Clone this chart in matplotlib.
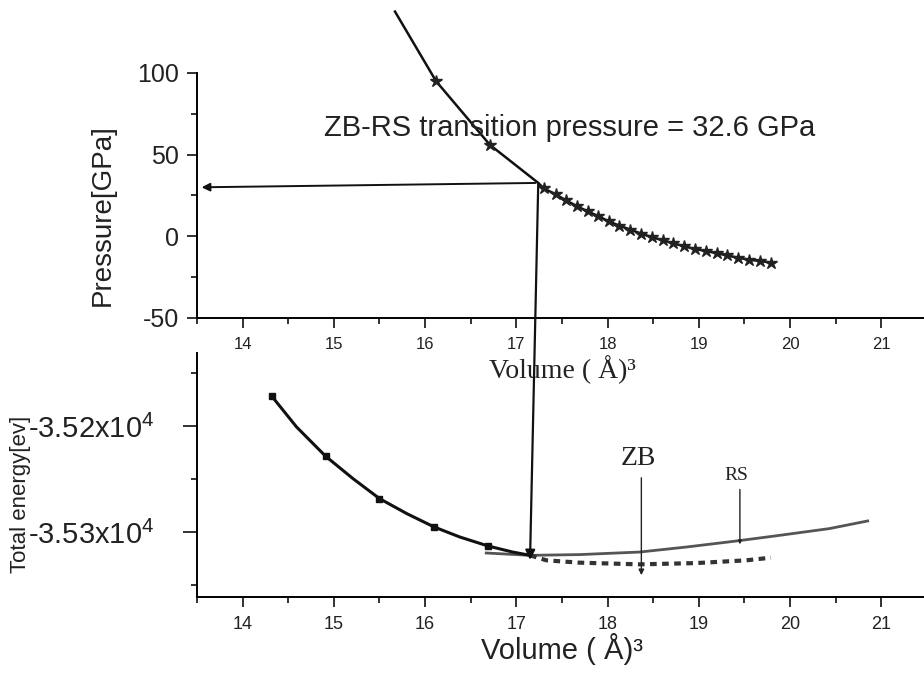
import numpy as np
import matplotlib
matplotlib.use('Agg')
import matplotlib.pyplot as plt
from matplotlib.patches import ConnectionPatch
from matplotlib.ticker import MultipleLocator, FixedLocator, FixedFormatter

plt.rcParams['font.family'] = 'Liberation Sans'
plt.rcParams['mathtext.fontset'] = 'custom'
plt.rcParams['mathtext.rm'] = 'Liberation Sans'
plt.rcParams['axes.unicode_minus'] = False

###############################
# pressure vs volume (upper panel)
p_vol = [15.67, 16.12, 16.71, 17.24, 17.30, 17.43, 17.54, 17.66, 17.78, 17.90,
         18.01, 18.13, 18.25, 18.37, 18.49, 18.61, 18.72, 18.84, 18.96, 19.08,
         19.20, 19.31, 19.43, 19.55, 19.67, 19.79]
p_val = [137.6, 95.0, 56.0, 32.7, 29.3, 25.8, 22.1, 18.6, 15.3, 12.3,
         9.2, 6.5, 4.1, 1.6, -0.6, -2.5, -4.3, -6.1, -7.8, -9.0,
         -10.4, -11.7, -13.1, -14.3, -15.1, -16.1]
star_vol = [16.12, 16.71] + p_vol[4:]
star_val = [95.0, 56.0] + p_val[4:]

###############################
# total energy vs volume (lower panel)
e_vol_a = [14.32, 14.59, 14.91, 15.21, 15.50, 15.80, 16.10, 16.38, 16.69, 16.96, 17.15]
e_val_a = [-35171.7, -35200.6, -35228.3, -35249.4, -35268.2, -35282.4,
           -35295.0, -35304.4, -35312.9, -35318.6, -35321.7]
mark_vol = [14.32, 14.91, 15.50, 16.10, 16.69]
mark_val = [-35171.7, -35228.3, -35268.2, -35295.0, -35312.9]
e_vol_zb = [17.15, 17.33, 17.69, 18.35, 18.97, 19.52, 19.79]
e_val_zb = [-35321.7, -35326.4, -35328.6, -35330.2, -35329.0, -35326.4, -35323.9]
e_vol_rs = [16.67, 17.15, 17.69, 18.35, 18.86, 19.41, 19.89, 20.43, 20.85]
e_val_rs = [-35319.5, -35321.7, -35321.0, -35318.6, -35313.9, -35308.2,
            -35302.8, -35296.5, -35289.3]

p_trans = 32.6
e_ticks = [-35200, -35300]
e_ticklabels = [r'-3.52x10$^{4}$', r'-3.53x10$^{4}$']

txt = '#222222'

fig = plt.figure(figsize=(9.24, 6.74), dpi=100)
ax1 = fig.add_axes([0.2132, 0.5282, 0.790, 0.3635])
ax2 = fig.add_axes([0.2132, 0.1142, 0.790, 0.362])

for ax in (ax1, ax2):
    ax.patch.set_visible(False)
    ax.spines['top'].set_visible(False)
    ax.spines['right'].set_visible(False)
    ax.spines['left'].set_linewidth(1.4)
    ax.spines['bottom'].set_linewidth(1.4)
    ax.set_xlim(13.5, 21.5)
    ax.xaxis.set_major_locator(MultipleLocator(1))
    ax.xaxis.set_minor_locator(MultipleLocator(0.5))
    ax.tick_params(which='major', direction='out', length=7, width=1.3, colors='#222222')
    ax.tick_params(which='minor', direction='out', length=4, width=1.3, colors='#222222')

# upper panel
ax1.plot(p_vol, p_val, color='#111111', lw=1.8, clip_on=False, zorder=3)
ax1.plot(star_vol, star_val, ls='none', marker='*', ms=9, color='#222222', clip_on=False, zorder=4)
ax1.set_ylim(-50, 100)
ax1.yaxis.set_major_locator(MultipleLocator(50))
ax1.yaxis.set_minor_locator(MultipleLocator(25))
ax1.tick_params(axis='x', labelsize=12, pad=7)
ax1.tick_params(axis='y', labelsize=18, pad=6)
ax1.set_xlabel('Volume ( Å)³', family='Liberation Serif', fontsize=20, color=txt, labelpad=2)
ax1.text(14.89, 66.4, 'ZB-RS transition pressure = %.1f GPa' % p_trans,
         fontsize=21, color=txt, ha='left', va='center')
ax1.annotate('', xy=(13.52, 30.0), xytext=(17.24, 32.7),
             arrowprops=dict(arrowstyle='-|>', color='#111111', lw=1.4,
                             mutation_scale=12))

# lower panel
ax2.plot(e_vol_rs, e_val_rs, color='#555555', lw=2, zorder=2)
ax2.plot(e_vol_zb, e_val_zb, color='#333333', lw=3.0, dashes=(1.6, 1.3), zorder=2)
ax2.plot(e_vol_a, e_val_a, color='#111111', lw=2.2, zorder=3)
ax2.plot(mark_vol, mark_val, ls='none', marker='s', ms=4, color='#111111', zorder=3)
ax2.set_ylim(-35361, -35131)
ax2.yaxis.set_major_locator(FixedLocator(e_ticks))
ax2.yaxis.set_major_formatter(FixedFormatter(e_ticklabels))
ax2.yaxis.set_minor_locator(MultipleLocator(50))
ax2.tick_params(axis='x', labelsize=13, pad=7)
ax2.tick_params(axis='y', which='major', labelsize=21, pad=21, length=10)
ax2.set_xlabel('Volume ( Å)³', fontsize=21, color=txt, labelpad=0)

ax2.annotate('', xy=(18.37, -35343), xytext=(18.37, -35246),
             arrowprops=dict(arrowstyle='-|>', color='#222222', lw=1.0, mutation_scale=8))
ax2.text(18.34, -35230, 'ZB', family='Liberation Serif', fontsize=20, color=txt,
         ha='center', va='center')
ax2.annotate('', xy=(19.45, -35314), xytext=(19.45, -35257),
             arrowprops=dict(arrowstyle='-|>', color='#222222', lw=1.0, mutation_scale=5))
ax2.text(19.41, -35246, 'RS', family='Liberation Serif', fontsize=14, color=txt,
         ha='center', va='center')

# vertical arrow from the transition point down to the energy curves
con = ConnectionPatch(xyA=(17.24, 32.7), coordsA=ax1.transData,
                      xyB=(17.15, -35326), coordsB=ax2.transData,
                      arrowstyle='-|>', color='#111111', lw=1.6, mutation_scale=14)
fig.add_artist(con)

fig.text(103 / 924, 1 - 215 / 674, 'Pressure[GPa]', rotation=90, fontsize=20,
         color=txt, ha='center', va='center')
fig.text(21 / 924, 1 - 494 / 674, 'Total energy[ev]', rotation=90, fontsize=16,
         color=txt, ha='center', va='center')

plt.savefig('out.png', dpi=100)
